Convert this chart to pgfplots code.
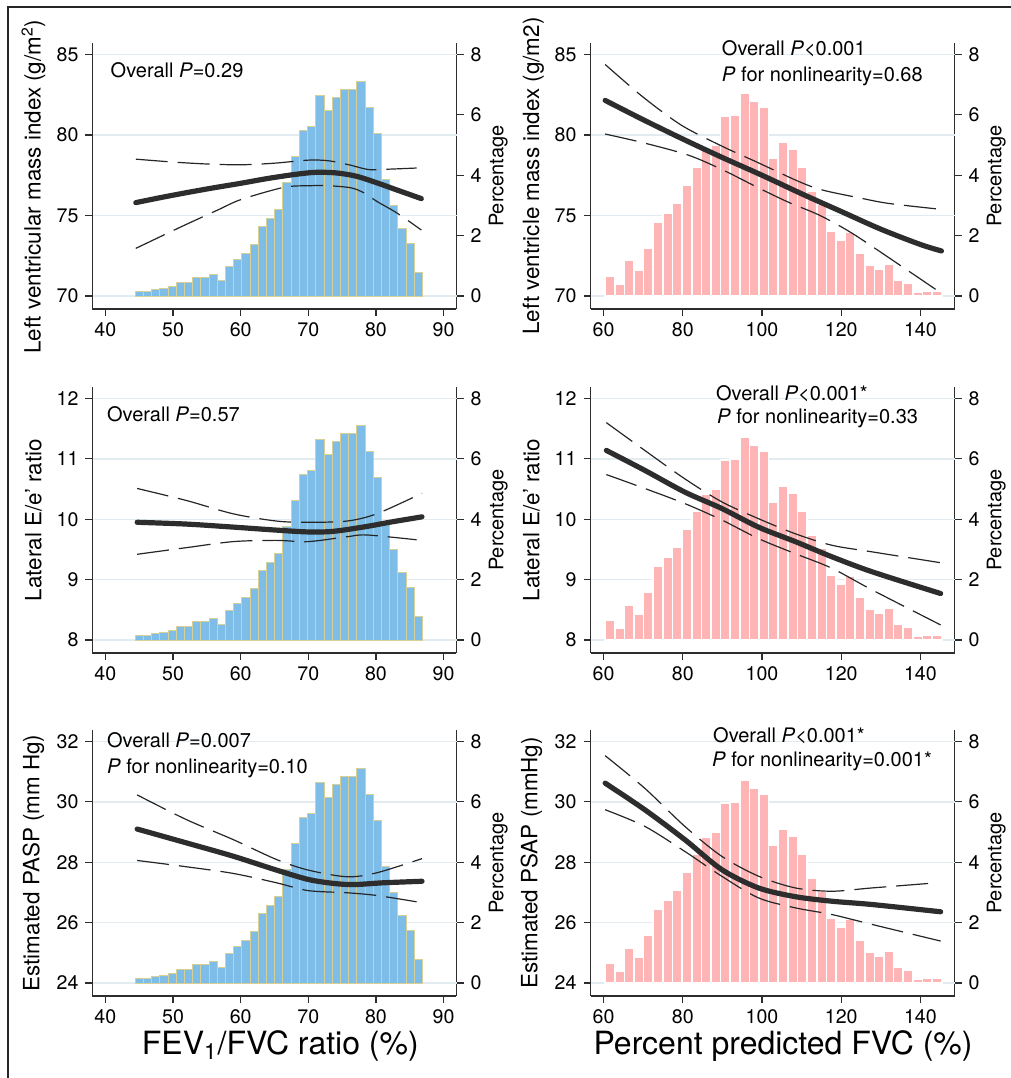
\documentclass[border=0pt]{standalone}
\usepackage{pgfplots}
\usepackage{pgfplotstable}
\pgfplotsset{compat=1.18}
\usepackage{fontspec}
\setmainfont{TeX Gyre Heros}

\definecolor{barblue}{RGB}{126,189,232}
\definecolor{baredge}{RGB}{214,208,150}
\definecolor{barpink}{RGB}{255,181,181}
\definecolor{gridc}{RGB}{226,236,240}
\definecolor{axc}{RGB}{45,45,45}
\definecolor{curvec}{RGB}{45,45,45}

\pgfplotstableread{
x y
44.40 0.15
45.61 0.15
46.83 0.21
48.04 0.26
49.26 0.30
50.47 0.46
51.68 0.46
52.90 0.63
54.11 0.63
55.33 0.71
56.54 0.52
57.75 0.98
58.97 1.21
60.18 1.40
61.40 1.71
62.61 2.30
63.82 2.58
65.04 2.88
66.25 3.75
67.47 4.63
68.68 5.49
69.89 5.62
71.11 6.65
72.32 6.15
73.54 6.59
74.75 6.84
75.96 6.84
77.18 7.11
78.39 6.25
79.61 5.39
80.82 3.87
82.03 3.00
83.25 2.24
84.46 1.73
85.68 0.79
86.89 0.79
}\histleft

\pgfplotstableread{
x y
60.40 0.67
62.83 0.40
65.26 1.17
67.68 0.86
70.11 1.58
72.54 2.43
74.97 2.74
77.40 3.08
79.82 3.67
82.25 4.28
84.68 4.83
87.11 5.00
89.54 5.96
91.96 5.99
94.39 6.72
96.82 6.45
99.25 6.24
101.68 4.55
104.10 5.08
106.53 4.87
108.96 4.28
111.39 3.47
113.82 3.03
116.24 2.16
118.67 1.85
121.10 2.11
123.53 1.43
125.96 1.03
128.38 0.90
130.81 1.06
133.24 0.53
135.67 0.44
138.10 0.12
140.52 0.17
142.95 0.17
145.38 0.17
}\histright

\tikzset{annot/.style={font=\fontsize{10}{12}\selectfont, anchor=west, inner sep=0pt}}

\pgfplotsset{
  base/.style={scale only axis, width=182pt, height=133pt, anchor=south west,
    tick align=outside, major tick length=3.5pt,
    tick style={axc, line width=0.6pt},
    axis line style={-, axc, line width=0.65pt},
    ticklabel style={font=\fontsize{9.8}{11}\selectfont},
    /pgf/number format/assume math mode=true},
  leftx/.style={xmin=38.1, xmax=91.9, xtick={40,50,...,90}},
  rightx/.style={xmin=56.7, xmax=148.6, xtick={60,80,...,140}},
  hist/.style={base, axis x line=none, axis y line*=right,
    ymin=-0.43, ymax=8.38, ytick={0,2,4,6,8},
    extra y tick labels={},
    extra y tick style={grid=major, major tick length=0pt},
    grid style={gridc, line width=0.7pt},
    ylabel={Percentage},
    ylabel style={font=\fontsize{10}{12}\selectfont, at={(axis description cs:1.115,0.5)}, anchor=center}},
  gridA/.style={extra y ticks={0,2.6667,5.3333,8}},
  gridB/.style={extra y ticks={0,2,4,6,8}},
  curves/.style={base, axis x line*=bottom, axis y line*=left, clip mode=individual,
    ylabel style={font=\fontsize{11.2}{13}\selectfont, at={(axis description cs:-0.162,0.5)}, anchor=center},
    xlabel style={font=\fontsize{16}{19}\selectfont, anchor=center}},
  fitline/.style={curvec, line width=2.6pt, smooth, line cap=round},
  ciline/.style={black!85, line width=0.6pt, smooth, dash pattern=on 16pt off 5pt},
  bluebars/.style={ybar interval, fill=barblue, draw=baredge, line width=0.5pt},
  pinkbars/.style={ybar interval, fill=barpink, draw=white, line width=0.8pt}
}

\begin{document}
\begin{tikzpicture}
\useasboundingbox (0,0) rectangle (505.5pt,-539pt);
\draw[line width=1.2pt, black!85] (4pt,-539pt) -- (4pt,-3.5pt) -- (505.5pt,-3.5pt);

% ---------------- Panel 1 ----------------
\begin{axis}[hist, gridA, leftx, at={(46.25pt,-154.5pt)}]
\addplot[bluebars] table {\histleft};
\end{axis}
\begin{axis}[curves, leftx, at={(46.25pt,-154.5pt)},
  ymin=69.194, ymax=85.713, ytick={70,75,80,85},
  ylabel={Left ventricular mass index (g/m\textsuperscript{2})},
  ylabel style={at={(axis description cs:-0.162,0.46)}}]
\addplot[ciline] coordinates {(44.5,78.50) (50,78.32) (55,78.20) (60,78.15) (65,78.25) (70,78.44) (73,78.40) (76,78.15) (79,77.85) (82,77.88) (86,77.95)};
\addplot[ciline] coordinates {(44.5,72.96) (51.2,74.30) (56.6,75.34) (60.1,76.00) (66.4,76.75) (70.1,76.85) (73,76.85) (76.3,76.72) (78.2,76.41) (80.2,75.86) (83.2,75.13) (86.7,74.10)};
\addplot[fitline] coordinates {(44.5,75.80) (48,76.10) (52,76.42) (56,76.72) (60,77.00) (64,77.30) (68,77.55) (71,77.68) (74,77.65) (77,77.45) (80,77.05) (83,76.60) (86.7,76.05)};
\node[annot] at (axis description cs:0.049,0.898) {Overall \textit{P}=0.29};
\end{axis}

% ---------------- Panel 2 ----------------
\begin{axis}[hist, gridA, rightx, at={(295.25pt,-154.5pt)}]
\addplot[pinkbars] table {\histright};
\end{axis}
\begin{axis}[curves, rightx, at={(295.25pt,-154.5pt)},
  ymin=69.194, ymax=85.713, ytick={70,75,80,85},
  ylabel={Left ventricle mass index (g/m2)},
  ylabel style={at={(axis description cs:-0.157,0.5)}}]
\addplot[ciline] coordinates {(60.4,84.38) (69.9,82.37) (79.7,80.60) (90.2,79.27) (98.5,78.34) (109.4,77.10) (115.3,76.58) (124.5,76.10) (132,75.75) (145.3,75.38)};
\addplot[ciline] coordinates {(60.4,80.06) (70,79.52) (81.4,78.75) (90.2,77.82) (99.4,76.68) (106.9,75.80) (114.4,75.03) (122.8,73.89) (135.4,71.82) (145.3,70.17)};
\addplot[fitline] coordinates {(60.4,82.15) (70,80.95) (80,79.75) (90,78.60) (100,77.50) (110,76.35) (120,75.25) (130,74.15) (140,73.20) (145.3,72.80)};
\node[annot] at (axis description cs:0.36,0.977) {Overall \textit{P}<0.001};
\node[annot] at (axis description cs:0.36,0.876) {\textit{P} for nonlinearity=0.68};
\end{axis}

% ---------------- Panel 3 ----------------
\begin{axis}[hist, gridB, leftx, at={(46.25pt,-326.5pt)}]
\addplot[bluebars] table {\histleft};
\end{axis}
\begin{axis}[curves, leftx, at={(46.25pt,-326.5pt)},
  ymin=7.785, ymax=12.19, ytick={8,9,10,11,12},
  ylabel={Lateral E/e' ratio}]
\addplot[ciline] coordinates {(44.7,10.51) (52,10.31) (58.9,10.09) (65.3,9.97) (70,9.95) (75.7,9.97) (80.1,10.09) (86.8,10.43)};
\addplot[ciline] coordinates {(44.7,9.42) (52,9.53) (58.9,9.63) (65.3,9.65) (70,9.63) (75.7,9.71) (78.6,9.74) (86,9.66)};
\addplot[fitline] coordinates {(44.7,9.95) (52,9.92) (58.9,9.87) (65.3,9.82) (70,9.79) (73.7,9.80) (78.6,9.88) (82,9.95) (86.8,10.04)};
\node[annot] at (axis description cs:0.039,0.899) {Overall \textit{P}=0.57};
\end{axis}

% ---------------- Panel 4 ----------------
\begin{axis}[hist, gridB, rightx, at={(295.25pt,-326.5pt)}]
\addplot[pinkbars] table {\histright};
\end{axis}
\begin{axis}[curves, rightx, at={(295.25pt,-326.5pt)},
  ymin=7.785, ymax=12.19, ytick={8,9,10,11,12},
  ylabel={Lateral E/e' ratio}]
\addplot[ciline] coordinates {(60.7,11.60) (70.4,11.14) (80.5,10.67) (89.8,10.29) (99.1,10.01) (108.4,9.76) (117.6,9.57) (127.8,9.46) (145.1,9.28)};
\addplot[ciline] coordinates {(60.7,10.74) (70.4,10.51) (80.5,10.26) (89.8,9.99) (99.1,9.68) (108.4,9.43) (117.6,9.19) (127.8,8.83) (145.1,8.25)};
\addplot[fitline] coordinates {(60.7,11.14) (70.4,10.81) (80.5,10.45) (89.8,10.18) (99.1,9.87) (108.4,9.63) (117.6,9.38) (127.8,9.13) (145.1,8.77)};
\node[annot] at (axis description cs:0.344,0.974) {Overall \textit{P}<0.001*};
\node[annot] at (axis description cs:0.347,0.884) {\textit{P} for nonlinearity=0.33};
\end{axis}

% ---------------- Panel 5 ----------------
\begin{axis}[hist, gridB, leftx, at={(46.25pt,-498pt)}]
\addplot[bluebars] table {\histleft};
\end{axis}
\begin{axis}[curves, leftx, at={(46.25pt,-498pt)},
  ymin=23.57, ymax=32.38, ytick={24,26,28,30,32},
  ylabel={Estimated PASP (mm Hg)},
  xlabel={FEV\textsubscript{1}/FVC ratio (\%)},
  xlabel style={at={(axis description cs:0.516,-0.187)}}]
\addplot[ciline] coordinates {(44.7,30.23) (52,29.41) (58.9,28.75) (65.3,28.09) (70,27.74) (75.7,27.52) (80.1,27.65) (86.8,28.12)};
\addplot[ciline] coordinates {(44.7,28.06) (52,27.85) (58.9,27.63) (65.3,27.32) (70,27.06) (75.7,26.99) (80.1,26.90) (86,26.69)};
\addplot[fitline] coordinates {(44.7,29.10) (52,28.64) (58.9,28.20) (65.3,27.74) (70,27.43) (73.7,27.30) (76.7,27.26) (81.1,27.32) (86.8,27.37)};
\node[annot] at (axis description cs:0.039,0.963) {Overall \textit{P}=0.007};
\node[annot] at (axis description cs:0.039,0.854) {\textit{P} for nonlinearity=0.10};
\end{axis}

% ---------------- Panel 6 ----------------
\begin{axis}[hist, gridB, rightx, at={(295.25pt,-498pt)}]
\addplot[pinkbars] table {\histright};
\end{axis}
\begin{axis}[curves, rightx, at={(295.25pt,-498pt)},
  ymin=23.57, ymax=32.38, ytick={24,26,28,30,32},
  ylabel={Estimated PSAP (mmHg)},
  xlabel={Percent predicted FVC (\%)},
  xlabel style={at={(axis description cs:0.529,-0.187)}}]
\addplot[ciline] coordinates {(60.4,31.53) (70.4,30.45) (80.5,29.19) (89.8,28.20) (99.1,27.54) (108.4,27.15) (117.6,27.04) (127.8,27.15) (144.2,27.32)};
\addplot[ciline] coordinates {(60.4,29.74) (70.4,29.19) (80.5,28.36) (89.8,27.54) (99.1,26.82) (108.4,26.49) (117.6,26.27) (127.8,25.94) (145.1,25.39)};
\addplot[fitline] coordinates {(60.4,30.62) (70.4,29.74) (80.5,28.75) (89.8,27.76) (99.1,27.15) (108.4,26.86) (117.6,26.71) (127.8,26.60) (145.1,26.36)};
\node[annot] at (axis description cs:0.336,0.978) {Overall \textit{P}<0.001*};
\node[annot] at (axis description cs:0.333,0.884) {\textit{P} for nonlinearity=0.001*};
\end{axis}

\end{tikzpicture}
\end{document}
